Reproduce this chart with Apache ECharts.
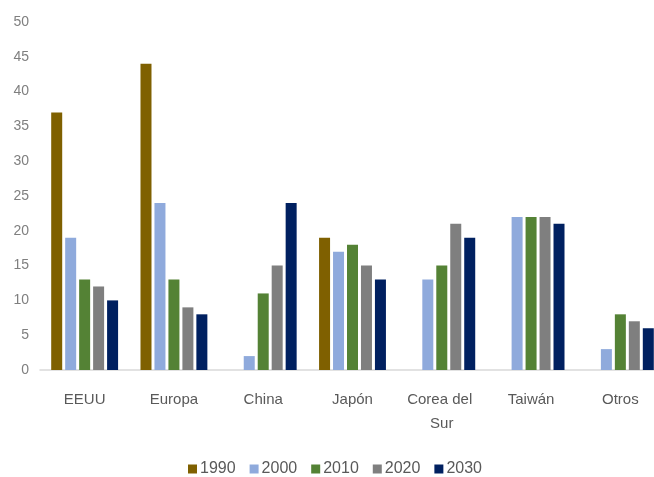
<!DOCTYPE html>
<html><head><meta charset="utf-8">
<script src="https://cdn.jsdelivr.net/npm/echarts@6/dist/echarts.min.js"></script>
<style>html,body{margin:0;padding:0;background:#fff;overflow:hidden}#c{width:680px;height:477px}</style>
</head><body><div id="c"></div>
<script>
const categories = ['EEUU','Europa','China','Japón','Corea del Sur','Taiwán','Otros'];
const seriesNames = ['1990','2000','2010','2020','2030'];
const s1990 = [37,44,null,19,null,null,null];
const s2000 = [19,24,2,17,13,22,3];
const s2010 = [13,13,11,18,15,22,8];
const s2020 = [12,9,15,15,21,22,7];
const s2030 = [10,8,24,13,19,21,6];
const yTicks = [0,5,10,15,20,25,30,35,40,45,50];
const colors = ['#7f6000','#8faadc','#548235','#7f7f7f','#002060'];
const values = [s1990,s2000,s2010,s2020,s2030];
const font = 'Liberation Sans, Arial, sans-serif';
const chart = echarts.init(document.getElementById('c'));
chart.setOption({
  animation:false,
  color: colors,
  grid:{left:40, top:22, bottom:107, width:625},
  legend:{
    data: seriesNames, left:183, top:456, itemWidth:9, itemHeight:9, itemGap:14,
    icon:'rect',
    textStyle:{color:'#595959', fontSize:16, fontFamily:font, padding:[0,0,0,-2]}
  },
  xAxis:{
    type:'category', data:categories,
    axisLine:{lineStyle:{color:'#d9d9d9', width:1.5}},
    axisTick:{show:false},
    axisLabel:{color:'#595959', fontSize:15, fontFamily:font, margin:18, width:80, overflow:'break', lineHeight:24, interval:0}
  },
  yAxis:{
    type:'value', min:yTicks[0], max:yTicks[yTicks.length-1], interval:5,
    splitLine:{show:false}, axisLine:{show:false}, axisTick:{show:false},
    axisLabel:{color:'#7f7f7f', fontSize:14, fontFamily:font, margin:11}
  },
  series: seriesNames.map((n,i)=>({
    name:n, type:'bar', data:values[i], barWidth:11, barGap:'27%',
    itemStyle:{color:colors[i]}
  }))
});
</script></body></html>
